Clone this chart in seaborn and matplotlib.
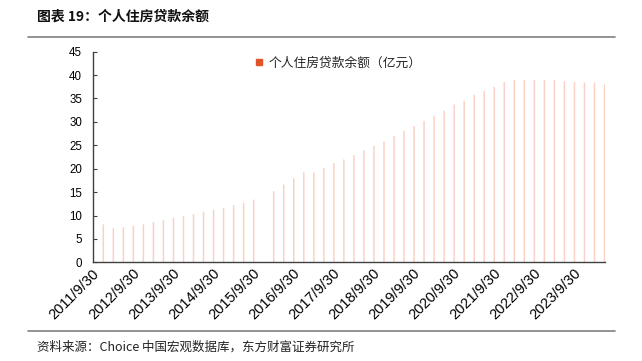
import matplotlib
matplotlib.use("Agg")
import matplotlib.pyplot as plt
import seaborn as sns
import pandas as pd
import numpy as np
from matplotlib.lines import Line2D

# ---- data ----
dates = pd.date_range("2011-09-30", periods=51, freq="QE")
date_labels = [f"{d.year}/{d.month}/{d.day}" for d in dates]
values = [8.1, 7.3, 7.5, 7.8, 8.1, 8.6, 9.0, 9.5, 9.9, 10.3,
          10.8, 11.2, 11.6, 12.2, 12.7, 13.4, np.nan, 15.2, 16.6, 17.9,
          19.2, 19.2, 20.2, 21.2, 22.0, 22.9, 23.9, 24.9, 25.8, 27.0,
          28.1, 29.1, 30.2, 31.3, 32.4, 33.7, 34.5, 35.8, 36.6, 37.5,
          38.5, 38.9, 39.0, 39.0, 39.0, 39.0, 38.7, 38.5, 38.4, 38.4,
          38.0]
series_name = "个人住房贷款余额（亿元）"
title = "图表 19：个人住房贷款余额"
source = "资料来源：Choice 中国宏观数据库，东方财富证券研究所"
yticks = [0, 5, 10, 15, 20, 25, 30, 35, 40, 45]

df = pd.DataFrame({"date": date_labels, "value": values})

sns.set_theme(style="white")
plt.rcParams["font.family"] = ["Liberation Sans", "Noto Sans CJK SC", "DejaVu Sans"]
CJK = ["Noto Sans CJK SC", "DejaVu Sans"]

fig = plt.figure(figsize=(6.42, 3.61), dpi=100)
ax = fig.add_axes([0.1453, 0.2734, 0.9424 - 0.1453, 0.8568 - 0.2734])

sns.barplot(data=df, x="date", y="value", order=date_labels, color="#FAD2C5",
            width=0.15, saturation=1, ax=ax, errorbar=None)
for p in ax.patches:
    p.set_snap(False)
    p.set_linewidth(0)

ax.set_ylim(0, 45)
ax.set_xlim(-1, len(date_labels) - 0.95)
ax.set_yticks(yticks)
ax.set_yticklabels([str(t) for t in yticks], fontsize=8.3)
tick_pos = list(range(0, len(date_labels), 4))
ax.set_xticks(tick_pos)
ax.set_xticklabels([])
for i in tick_pos:
    ax.annotate(date_labels[i], xy=(i, 0), xycoords=("data", "axes fraction"),
                xytext=(-11, -4), textcoords="offset pixels",
                rotation=45, ha="right", va="top", rotation_mode="anchor",
                fontsize=10.5, color="#000000", annotation_clip=False)
ax.set_xlabel("")
ax.set_ylabel("")
for s in ["top", "right"]:
    ax.spines[s].set_visible(False)
for s in ["left", "bottom"]:
    ax.spines[s].set_color("#404040")
    ax.spines[s].set_linewidth(1.0)
ax.tick_params(axis="y", direction="in", length=3, width=0.8, color="#404040",
               left=True, pad=8, labelcolor="#000000")
ax.tick_params(axis="x", length=0, pad=0)

handle = Line2D([], [], marker="s", linestyle="none", color="#E2532B", markersize=5)
leg = ax.legend([handle], [series_name], loc="center left",
                bbox_to_anchor=(0.292, 0.946), frameon=False,
                handletextpad=0.35, handlelength=0.8,
                prop={"family": CJK, "size": 9.2})

fig.text(0.058, 0.953, title, fontsize=10, fontweight="bold", family=CJK,
         va="center", ha="left", color="#111111")
fig.add_artist(Line2D([0.044, 0.958], [0.897, 0.897], color="#808080", lw=1.2))
fig.add_artist(Line2D([0.044, 0.958], [0.083, 0.083], color="#808080", lw=1.2))
fig.text(0.058, 0.039, source, fontsize=9, family=CJK, va="center", ha="left",
         color="#222222")

fig.savefig("out.png", dpi=100)
